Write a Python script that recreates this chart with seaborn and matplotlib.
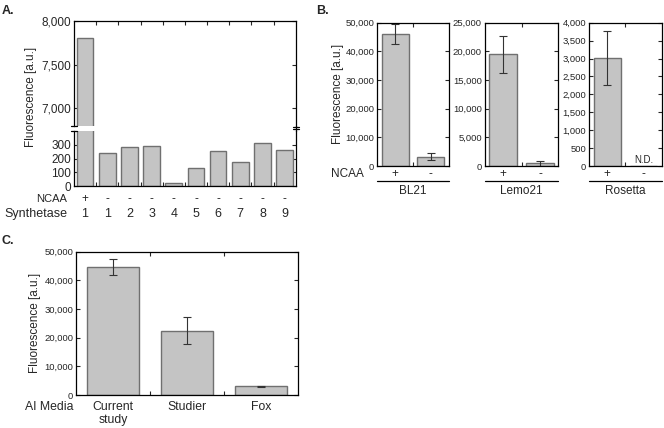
import numpy as np
import pandas as pd
import matplotlib
matplotlib.use("Agg")
import matplotlib.pyplot as plt
import matplotlib.transforms as mtransforms
from matplotlib.lines import Line2D
import seaborn as sns

# Panel A data
synthetase = ['1', '1', '2', '3', '4', '5', '6', '7', '8', '9']
ncaa_a = ['+', '-', '-', '-', '-', '-', '-', '-', '-', '-']
fluor_a = [7800, 238, 287, 290, 20, 133, 255, 174, 310, 263]

# Panel B data
strains = ['BL21', 'Lemo21', 'Rosetta']
ncaa_b = ['+', '-']
fluor_b = {'BL21': [46000, 3300], 'Lemo21': [19500, 450], 'Rosetta': [3020, 0]}
err_b = {'BL21': [3600, 1150], 'Lemo21': [3250, 400], 'Rosetta': [760, 0]}
ylim_b = {'BL21': (50000, 10000), 'Lemo21': (25000, 5000), 'Rosetta': (4000, 500)}

# Panel C data
media = ['Current\nstudy', 'Studier', 'Fox']
fluor_c = [44500, 22500, 3000]
err_c = [2800, 4800, 150]

sns.set_style("ticks")
plt.rcParams['font.family'] = ['Liberation Sans', 'DejaVu Sans']

bar_color = '#c4c4c4'
edge_color = '#707070'
err_color = '#333333'


def style_ax(ax, size):
    for s in ax.spines.values():
        s.set_linewidth(0.9)
        s.set_color('black')
    ax.tick_params(direction='in', length=3, width=0.8, labelsize=size,
                   right=True, top=True, pad=2)


def thousands(v, pos):
    return f'{int(v):,}'


fig = plt.figure(figsize=(6.64, 4.28), dpi=100)

# ---------------- Panel A (broken axis) ----------------
ax_top = fig.add_axes([0.1114, 0.706, 0.334, 0.245])
ax_bot = fig.add_axes([0.1114, 0.565, 0.334, 0.129])
xa = list(range(len(fluor_a)))
for ax in (ax_top, ax_bot):
    sns.barplot(x=xa, y=fluor_a, ax=ax, color=bar_color, edgecolor=edge_color,
                linewidth=1, width=0.75, saturation=1)
    style_ax(ax, 8.5)
    ax.set_xlim(-0.5, 9.5)
    ax.set_xticks([i + 0.5 for i in range(9)])
    ax.set_xticklabels([])
    ax.yaxis.set_major_formatter(plt.FuncFormatter(thousands))
    ax.set_xlabel('')
ax_top.set_ylim(6800, 8000)
ax_top.set_yticks([7000, 7500, 8000])
ax_top.spines['bottom'].set_visible(False)
ax_top.tick_params(bottom=False)
ax_bot.set_ylim(0, 400)
ax_bot.set_yticks([0, 100, 200, 300])
ax_bot.spines['top'].set_visible(False)
ax_bot.tick_params(top=False)

# break marks
for ax, y in ((ax_top, 0), (ax_bot, 1)):
    ax.plot([-0.015, 0.015], [y, y], transform=ax.transAxes, color='black',
            lw=0.9, clip_on=False)
fig.add_artist(Line2D([0.4454, 0.4454], [0.694, 0.706], color='black', lw=0.9))
for yy in (0.698, 0.703):
    fig.add_artist(Line2D([0.441, 0.450], [yy, yy], color='black', lw=0.9))

fig.text(0.047, 0.773, 'Fluorescence [a.u.]', rotation=90, ha='center',
         va='center', fontsize=8.5)
trans_a = mtransforms.blended_transform_factory(ax_bot.transData, fig.transFigure)
for i in xa:
    ax_bot.text(i, 0.535, ncaa_a[i], transform=trans_a, ha='center', va='center',
                fontsize=8.5)
    ax_bot.text(i, 0.500, synthetase[i], transform=trans_a, ha='center',
                va='center', fontsize=9)
fig.text(0.101, 0.535, 'NCAA', ha='right', va='center', fontsize=8)
fig.text(0.101, 0.500, 'Synthetase', ha='right', va='center', fontsize=9)
fig.text(0.003, 0.988, 'A.', ha='left', va='top', fontsize=9, fontweight='bold')

# ---------------- Panel B ----------------
lefts_b = [0.568, 0.730, 0.887]
widths_b = [0.108, 0.111, 0.110]
for k, strain in enumerate(strains):
    ax = fig.add_axes([lefts_b[k], 0.612, widths_b[k], 0.335])
    vals = fluor_b[strain]
    errs = err_b[strain]
    sns.barplot(x=[0, 1], y=vals, ax=ax, color=bar_color, edgecolor=edge_color,
                linewidth=1, width=0.75, saturation=1)
    n = 1 if strain == 'Rosetta' else 2
    ax.errorbar(range(n), vals[:n], yerr=errs[:n], fmt='none', ecolor=err_color,
                elinewidth=0.8, capsize=3, capthick=0.8)
    style_ax(ax, 6.8)
    ax.set_xlim(-0.5, 1.5)
    ax.set_xticks([0.5])
    ax.set_xticklabels([])
    top, step = ylim_b[strain]
    ax.set_ylim(0, top)
    ax.set_yticks(np.arange(0, top + 1, step))
    ax.yaxis.set_major_formatter(plt.FuncFormatter(thousands))
    ax.set_xlabel('')
    if strain == 'Rosetta':
        ax.text(1, top * 0.01, 'N.D.', ha='center', va='bottom', fontsize=7)
    if k == 0:
        ax.set_ylabel('Fluorescence [a.u.]', fontsize=8.5, labelpad=1)
    tr = mtransforms.blended_transform_factory(ax.transData, fig.transFigure)
    for i in range(2):
        ax.text(i, 0.593, ncaa_b[i], transform=tr, ha='center', va='center',
                fontsize=8.5)
    ax.plot([-0.5, 1.5], [0.577, 0.577], transform=tr, color='black', lw=0.9,
            clip_on=False)
    ax.text(0.5, 0.553, strain, transform=tr, ha='center', va='center',
            fontsize=8.5)
fig.text(0.548, 0.593, 'NCAA', ha='right', va='center', fontsize=8.5)
fig.text(0.476, 0.988, 'B.', ha='left', va='top', fontsize=9, fontweight='bold')

# ---------------- Panel C ----------------
ax_c = fig.add_axes([0.1145, 0.077, 0.334, 0.335])
sns.barplot(x=media, y=fluor_c, ax=ax_c, color=bar_color, edgecolor=edge_color,
            linewidth=1, width=0.7, saturation=1)
ax_c.errorbar(range(3), fluor_c, yerr=err_c, fmt='none', ecolor=err_color,
              elinewidth=0.8, capsize=3, capthick=0.8)
style_ax(ax_c, 6.8)
ax_c.set_xlim(-0.5, 2.5)
ax_c.set_ylim(0, 50000)
ax_c.set_yticks(np.arange(0, 50001, 10000))
ax_c.yaxis.set_major_formatter(plt.FuncFormatter(thousands))
ax_c.tick_params(axis='x', which='major', length=0, labelsize=8.8, pad=4)
ax_c.set_xticks([0.5, 1.5], minor=True)
ax_c.tick_params(axis='x', which='minor', direction='in', length=3, width=0.8,
                 top=True, bottom=True)
ax_c.set_xlabel('')
ax_c.set_ylabel('Fluorescence [a.u.]', fontsize=8.5, labelpad=2)
fig.text(0.110, 0.050, 'AI Media', ha='right', va='center', fontsize=8.8)
fig.text(0.003, 0.452, 'C.', ha='left', va='top', fontsize=9, fontweight='bold')

fig.savefig('out.png', dpi=100)
